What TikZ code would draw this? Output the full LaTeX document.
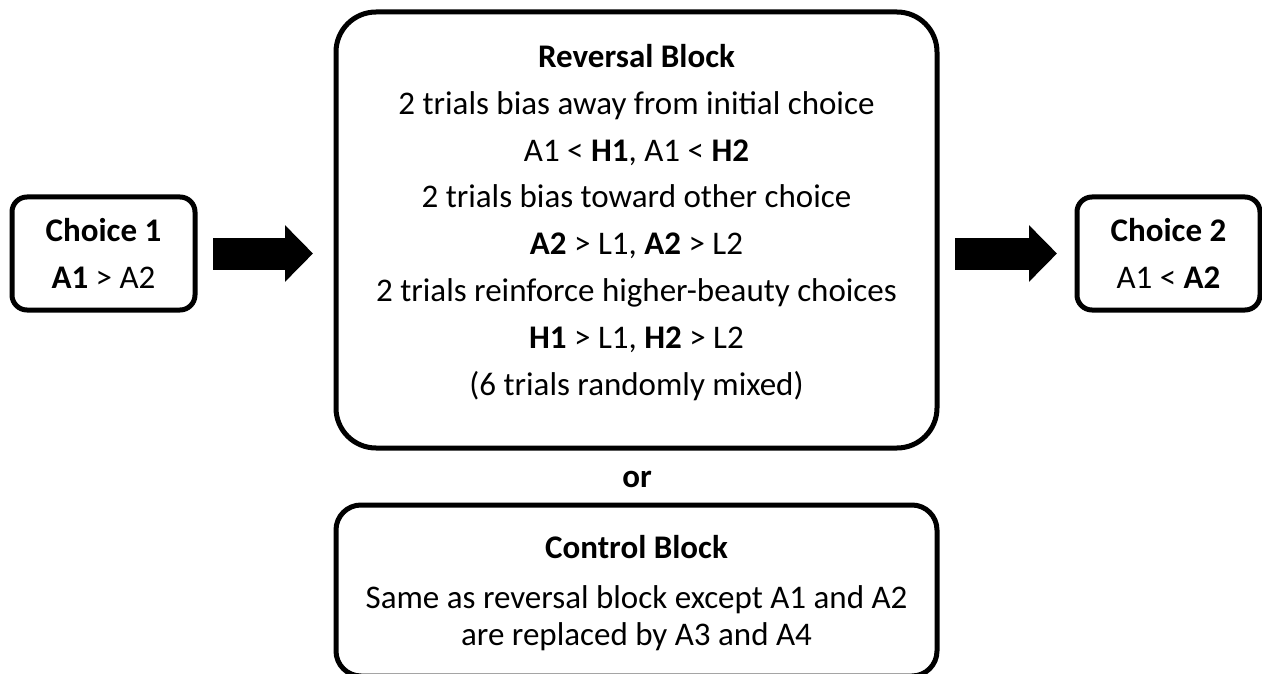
\documentclass[tikz,border=0pt]{standalone}
\usepackage{fontspec}
\setmainfont{Carlito}
\usepackage{tikz}
\usetikzlibrary{arrows.meta}

\tikzset{
  block/.style={draw, line width=5pt, rounded corners=#1, inner sep=0pt},
  block/.default=15pt,
  fatarrow/.style={line width=32pt, -{Triangle[length=28pt,width=55pt]}},
  txt/.style={align=center, font=\fontsize{33}{47}\selectfont}
}

\begin{document}
\begin{tikzpicture}[x=1pt,y=-1pt]
    \useasboundingbox (0,0) rectangle (1262,674);
    % left and right choices
    \node[block, txt, minimum width=183pt, minimum height=113pt] (choice1) at (103.5,253.5) {\textbf{Choice 1}\\\textbf{A1} > A2};
    \node[block, txt, minimum width=183pt, minimum height=113pt] (choice2) at (1168.5,253.5) {\textbf{Choice 2}\\A1 < \textbf{A2}};
    % reversal block
    \node[block=40pt, minimum width=601pt, minimum height=436pt] (rev) at (636.5,230) {};
    \node[txt, font=\fontsize{33}{46.9}\selectfont, yshift=7.5pt] (revtext) at (rev.center) {\textbf{Reversal Block}\\
        2 trials bias away from initial choice\\
        A1 < \textbf{H1}, A1 < \textbf{H2}\\
        2 trials bias toward other choice\\
        \textbf{A2} > L1, \textbf{A2} > L2\\
        2 trials reinforce higher-beauty\ choices\\
        \textbf{H1} > L1, \textbf{H2} > L2\\
        (6 trials randomly mixed)};
    \node[txt] (or) at (637,479) {\textbf{or}};
    % control block
    \node[block=25pt, minimum width=601pt, minimum height=171pt] (ctl) at (636.5,590.5) {};
    \node[txt, font=\fontsize{33}{37}\selectfont, yshift=-3pt] (ctltext) at (ctl.center) {\textbf{Control Block}\\[13pt]
        Same as reversal block except A1 and A2\\
        are replaced by A3 and A4};
    % arrows
    \draw[fatarrow, shorten <=15.5pt, shorten >=20.5pt] (choice1.east) -- (choice1.east -| rev.west);
    \draw[fatarrow, shorten <=15.5pt, shorten >=17.5pt] (choice1.east -| rev.east) -- (choice2.west);
\end{tikzpicture}
\end{document}
